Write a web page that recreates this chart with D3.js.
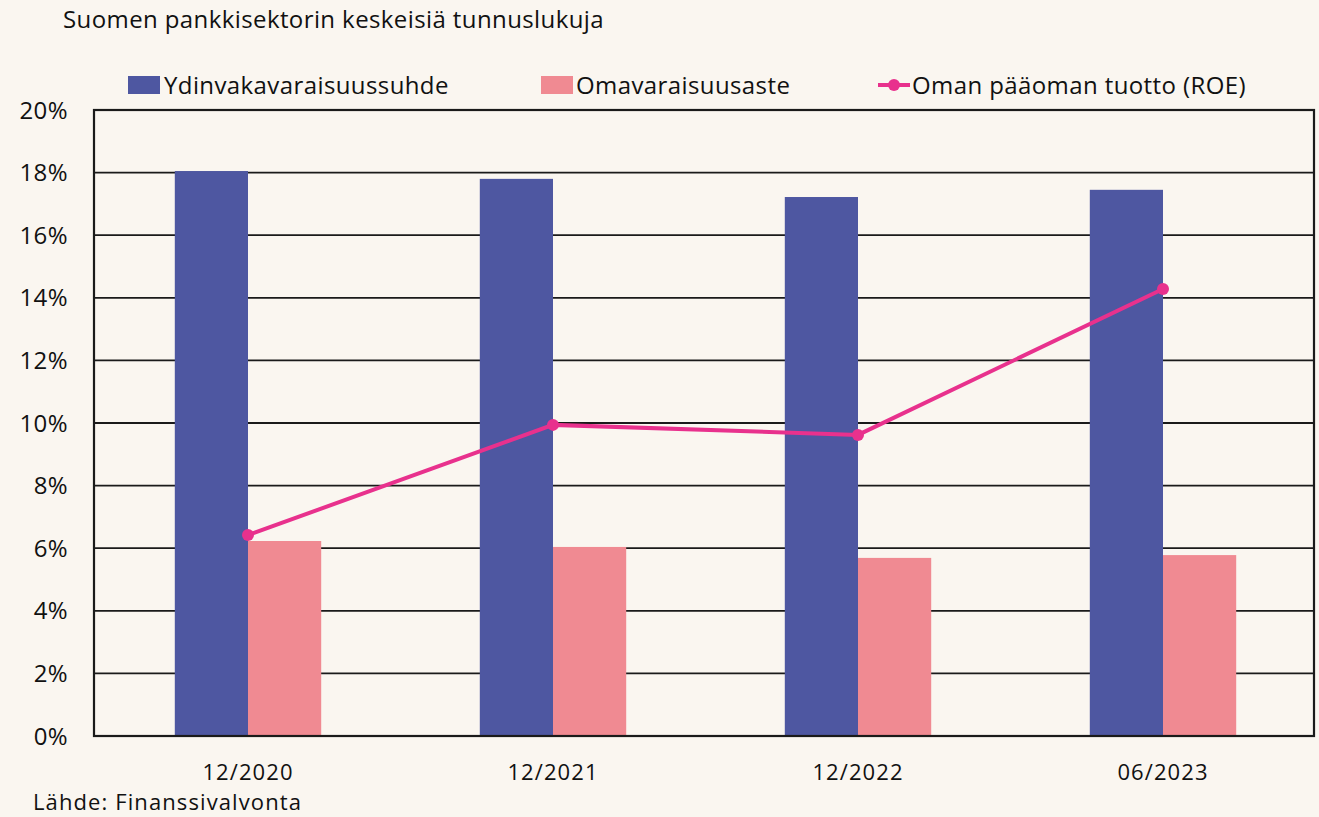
<!DOCTYPE html>
<html>
<head>
<meta charset="utf-8">
<script src="https://cdn.jsdelivr.net/npm/d3@7"></script>
<style>
  body { margin: 0; background: #faf6f0; }
  text { font-family: "Open Sans", sans-serif; fill: #111; font-size: 24px; letter-spacing: 0.4px; }
  .small { font-size: 22px; letter-spacing: 1.1px; }
</style>
</head>
<body>
<div id="chart"></div>
<script>
var width = 1319, height = 817;
var margin = {top: 110, right: 5, bottom: 81, left: 94};

var categories = ["12/2020", "12/2021", "12/2022", "06/2023"];
var core = [18.05, 17.8, 17.22, 17.45];        // Ydinvakavaraisuussuhde
var equity = [6.23, 6.04, 5.69, 5.78];         // Omavaraisuusaste
var roe = [6.42, 9.94, 9.62, 14.28];           // Oman pääoman tuotto (ROE)
var yTicks = [0, 2, 4, 6, 8, 10, 12, 14, 16, 18, 20];

var colors = { core: '#4e57a1', equity: '#f08a92', roe: '#e8318d' };

var svg = d3.select("#chart").append("svg")
    .attr("width", width)
    .attr("height", height);

var x = d3.scaleBand()
    .domain(categories)
    .range([margin.left + 1.5, width - margin.right + 1.5]);

var y = d3.scaleLinear()
    .domain([0, 20])
    .range([height - margin.bottom, margin.top]);

var barW = x.bandwidth() * 0.24;

// gridlines
svg.append("g")
  .selectAll("line")
  .data(yTicks)
  .enter().append("line")
    .attr("x1", margin.left).attr("x2", width - margin.right)
    .attr("y1", function(d){ return y(d); })
    .attr("y2", function(d){ return y(d); })
    .attr("stroke", "#1a1a1a")
    .attr("stroke-width", 1.8);

// y labels
svg.append("g")
  .selectAll("text")
  .data(yTicks)
  .enter().append("text")
    .attr("x", 68)
    .attr("y", function(d){ return y(d); })
    .attr("dy", "0.36em")
    .attr("text-anchor", "end")
    .text(function(d){ return d + "%"; });

// bars
var cx = function(d){ return x(d) + x.bandwidth() / 2; };

svg.append("g").selectAll("rect")
  .data(categories)
  .enter().append("rect")
    .attr("x", function(d){ return cx(d) - barW; })
    .attr("y", function(d, i){ return y(core[i]); })
    .attr("width", barW)
    .attr("height", function(d, i){ return y(0) - y(core[i]); })
    .attr("fill", colors.core);

svg.append("g").selectAll("rect")
  .data(categories)
  .enter().append("rect")
    .attr("x", function(d){ return cx(d); })
    .attr("y", function(d, i){ return y(equity[i]); })
    .attr("width", barW)
    .attr("height", function(d, i){ return y(0) - y(equity[i]); })
    .attr("fill", colors.equity);

// plot frame
svg.append("rect")
  .attr("x", margin.left).attr("y", margin.top)
  .attr("width", width - margin.left - margin.right)
  .attr("height", height - margin.top - margin.bottom)
  .attr("fill", "none")
  .attr("stroke", "#1a1a1a")
  .attr("stroke-width", 2.2);

// ROE line
var line = d3.line()
  .x(function(d, i){ return cx(categories[i]); })
  .y(function(d){ return y(d); });

svg.append("path")
  .datum(roe)
  .attr("d", line)
  .attr("fill", "none")
  .attr("stroke", colors.roe)
  .attr("stroke-width", 4);

svg.append("g").selectAll("circle")
  .data(roe)
  .enter().append("circle")
    .attr("cx", function(d, i){ return cx(categories[i]); })
    .attr("cy", function(d){ return y(d); })
    .attr("r", 6)
    .attr("fill", colors.roe);

// x labels
svg.append("g").selectAll("text")
  .data(categories)
  .enter().append("text")
    .attr("class", "small")
    .attr("x", cx)
    .attr("y", 780)
    .attr("text-anchor", "middle")
    .text(function(d){ return d; });

// title and source
svg.append("text")
  .attr("x", 63).attr("y", 28)
  .text("Suomen pankkisektorin keskeisiä tunnuslukuja");

svg.append("text")
  .attr("class", "small")
  .attr("x", 33).attr("y", 810)
  .text("Lähde: Finanssivalvonta");

// legend
var legend = svg.append("g");
legend.append("rect").attr("x", 128).attr("y", 76).attr("width", 32).attr("height", 18).attr("fill", colors.core);
legend.append("text").attr("x", 164).attr("y", 85).attr("dy", "0.36em").text("Ydinvakavaraisuussuhde");
legend.append("rect").attr("x", 541).attr("y", 76).attr("width", 32).attr("height", 18).attr("fill", colors.equity);
legend.append("text").attr("x", 576).attr("y", 85).attr("dy", "0.36em").text("Omavaraisuusaste");
legend.append("line").attr("x1", 878).attr("x2", 910).attr("y1", 85).attr("y2", 85)
  .attr("stroke", colors.roe).attr("stroke-width", 4);
legend.append("circle").attr("cx", 894).attr("cy", 85).attr("r", 6).attr("fill", colors.roe);
legend.append("text").attr("x", 912).attr("y", 85).attr("dy", "0.36em").text("Oman pääoman tuotto (ROE)");
</script>
</body>
</html>
